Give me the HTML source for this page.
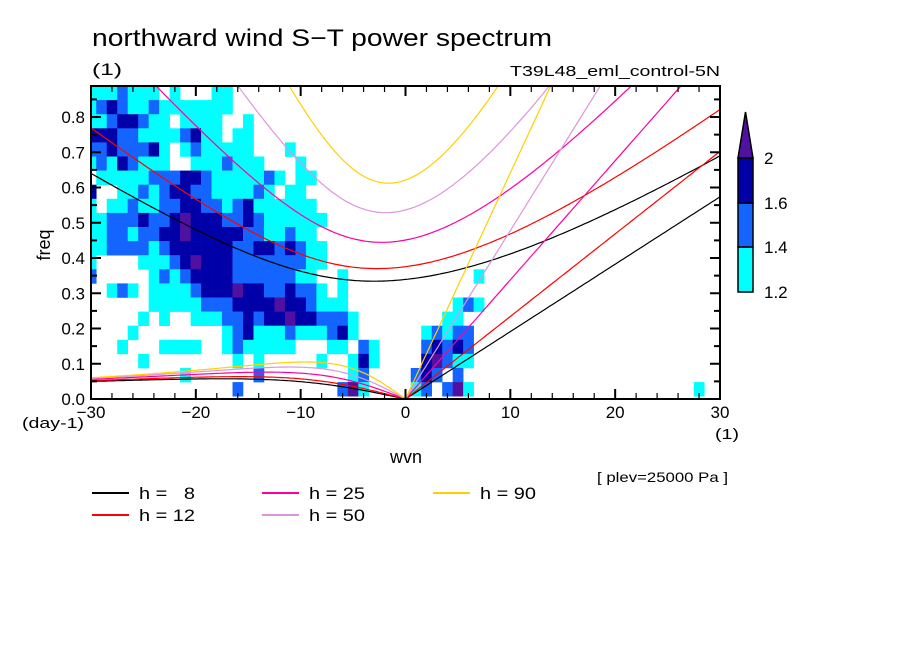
<!DOCTYPE html>
<html><head><meta charset="utf-8">
<style>
body{margin:0;background:#fff;}
svg{display:block;font-family:"Liberation Sans",sans-serif;}
</style></head>
<body>
<svg id="chart" width="904" height="654" viewBox="0 0 904 654" xmlns="http://www.w3.org/2000/svg">
<rect width="904" height="654" fill="#fff"/>
<text x="92" y="46" font-size="24" textLength="460" lengthAdjust="spacingAndGlyphs">northward wind S−T power spectrum</text>
<text x="92" y="75" font-size="17" textLength="30" lengthAdjust="spacingAndGlyphs">(1)</text>
<text x="510" y="76" font-size="15" textLength="210" lengthAdjust="spacingAndGlyphs">T39L48_eml_control-5N</text>
<defs><clipPath id="pc"><rect x="91" y="86" width="629" height="313"/></clipPath></defs>
<g id="cells" clip-path="url(#pc)"></g>
<g id="curves" clip-path="url(#pc)"></g>
<g id="axes"></g>
<text x="50" y="245" font-size="18" transform="rotate(-90 50 245)" text-anchor="middle">freq</text>
<text x="390" y="463" font-size="18" textLength="32" lengthAdjust="spacingAndGlyphs">wvn</text>
<text x="22" y="428" font-size="15" textLength="62" lengthAdjust="spacingAndGlyphs">(day-1)</text>
<text x="715" y="439" font-size="15" textLength="24" lengthAdjust="spacingAndGlyphs">(1)</text>
<text x="597" y="482" font-size="14" textLength="131" lengthAdjust="spacingAndGlyphs">[ plev=25000 Pa ]</text>
<g id="colorbar"></g>
<g id="legend"></g>
</svg>
<script>
// ---- data ----
const hValues = [8, 12, 25, 50, 90];
const hColors = ["#000000", "#ff0000", "#ff00a0", "#dc96dc", "#ffd000"];
const levelColors = ["none", "#00ffff", "#1464ff", "#0000a8", "#5010a0"];
const levelTicks = ["1.2", "1.4", "1.6", "2"];
const xTicks = [-30, -20, -10, 0, 10, 20, 30];
const yTicks = ["0.0", "0.1", "0.2", "0.3", "0.4", "0.5", "0.6", "0.7", "0.8"];
// power level grid: rows top (0.84-0.88) to bottom (0.00-0.04), columns wavenumber -30..30
const powerRows = [
"11121110100011000000"+"00000000000",
"12321121111111000000"+"00000000000",
"11233211011110010000"+"00000000000",
"33322111123110110000"+"00000000000",
"22322231012111110001"+"00000000000",
"12132111001112111000"+"10000000000",
"01111122233211111210"+"11000000000",
"30011212332211112101"+"10000000000",
"10112112233221231111"+"11000000000",
"11222322343332232111"+"11100000000",
"11221223343333322112"+"11000000000",
"11222212333333223323"+"21100000000",
"10000111234333222222"+"21100000000",
"20000012123333222222"+"11001000000"+"0000001",
"00121011112333433223"+"22101000000",
"00000011111222333343"+"32111000000"+"0000121",
"00000101001112232334"+"33222100000"+"00011",
"00001000000001231112"+"11123100000"+"012122",
"00010001111001211111"+"00011021000"+"023232",
"00000100000000101000"+"00100131000"+"034211",
"00000000010000002000"+"00000120000"+"232020",
"00000000000000200000"+"00002410000"+"120241000000000000000000000100"
];
const freqStep = 0.04, fMax = 0.888;
// ---- scales ----
const X0 = 91, X1 = 720, Y0 = 399, Y1 = 86;
const xs = k => X0 + (k + 30) / 60 * (X1 - X0);
const ys = f => Y0 - f / fMax * (Y0 - Y1);
const NS = "http://www.w3.org/2000/svg";
function mk(tag, attrs, parent){const e=document.createElementNS(NS,tag);for(const a in attrs)e.setAttribute(a,attrs[a]);parent.appendChild(e);return e;}
// cells
const cg = document.getElementById("cells");
powerRows.forEach((row, i) => {
  const r = row.padEnd(61, "0");
  const fBot = fMax - (i + 1) * freqStep;
  for (let j = 0; j < 61; j++) {
    const lv = +r[j];
    if (!lv) continue;
    const k = j - 30;
    const el = mk("rect", {x: xs(k - 0.5), y: ys(fBot + freqStep + (i===0?0.02:0)), width: xs(k + 0.5) - xs(k - 0.5) + 0.3, height: ys(fBot) - ys(fBot + freqStep + (i===0?0.02:0)) + 0.3, fill: levelColors[lv]}, cg);
    
    
  }
});
// dispersion curves
const R = 6.371e6, beta = 2 * 7.292e-5 / R, g = 9.81, toCpd = 86400 / (2 * Math.PI);
function solve(kw, c, w0){let w=w0;for(let it=0;it<60;it++){const f=w*w*w-(kw*kw*c*c+3*beta*c)*w-beta*kw*c*c;const d=3*w*w-(kw*kw*c*c+3*beta*c);w-=f/d;}return w;}
const cvg = document.getElementById("curves");
hValues.forEach((h, idx) => {
  const c = Math.sqrt(g * h);
  let ig = [], er = [], kel = [];
  for (let k = -30; k <= 30.001; k += 0.25) {
    const kw = k / R;
    const w = solve(kw, c, Math.sqrt(kw*kw*c*c + 3*beta*c) * 1.3);
    ig.push([xs(k), ys(w * toCpd)]);
    if (k < 0) { const w2 = solve(kw, c, -beta*kw/(kw*kw+3*beta/c)); er.push([xs(k), ys(w2 * toCpd)]); }
    if (k >= 0) kel.push([xs(k), ys(kw * c * toCpd)]);
  }
  er.push([xs(0), ys(0)]);
  [["ig", ig], ["er", er], ["kelvin", kel]].forEach(([nm, pts]) => {
    const p = mk("polyline", {points: pts.map(q => q[0].toFixed(1)+","+q[1].toFixed(1)).join(" "), fill: "none", stroke: hColors[idx], "stroke-width": 1.2}, cvg);
    
    
  });
});
// axes
const ag = document.getElementById("axes");
const fr = mk("rect", {x: X0, y: Y1, width: X1 - X0, height: Y0 - Y1, fill: "none", stroke: "#000", "stroke-width": 2}, ag);


for (let k = -30; k <= 30; k += 2) {
  const L = k % 10 === 0 ? 10 : 6;
  mk("line", {x1: xs(k), x2: xs(k), y1: Y0, y2: Y0 - L, stroke: "#000", "stroke-width": k%10===0?2:1.2}, ag);
  mk("line", {x1: xs(k), x2: xs(k), y1: Y1, y2: Y1 + L, stroke: "#000", "stroke-width": k%10===0?2:1.2}, ag);
}
for (let f = 0; f <= 0.88; f += 0.05) {
  const maj = Math.abs(f*10 - Math.round(f*10)) < 1e-6, L = maj ? 10 : 6;
  mk("line", {x1: X0, x2: X0 + L, y1: ys(f), y2: ys(f), stroke: "#000", "stroke-width": 2}, ag);
  mk("line", {x1: X1, x2: X1 - L, y1: ys(f), y2: ys(f), stroke: "#000", "stroke-width": 2}, ag);
}
xTicks.forEach(k => {
  const t = mk("text", {x: xs(k), y: 418, "font-size": 17, "text-anchor": "middle"}, ag);
  t.textContent = k < 0 ? "−" + (-k) : String(k);
  
  
});
yTicks.forEach(s => {
  const t = mk("text", {x: 85, y: ys(+s) + 6, "font-size": 17, "text-anchor": "end"}, ag);
  t.textContent = s;
  
  
});
// colorbar
const cb = document.getElementById("colorbar");
const cbx = 738, cbw = 15, cbBounds = [292, 247, 203, 158];
for (let i = 0; i < 3; i++) {
  const r = mk("rect", {x: cbx, y: cbBounds[i+1], width: cbw, height: cbBounds[i] - cbBounds[i+1], fill: levelColors[i+1], stroke: "#000", "stroke-width": 1.5}, cb);
  
  
}
const tri = mk("polygon", {points: `${cbx},158 ${cbx+cbw},158 ${cbx+cbw/2},112`, fill: levelColors[4], stroke: "#000", "stroke-width": 1.5}, cb);


levelTicks.forEach((s, i) => {
  const t = mk("text", {x: 764, y: cbBounds[i] + 6, "font-size": 17}, cb);
  t.textContent = s;
  
  
});
// legend
const lg = document.getElementById("legend");
const legPos = [[92,493],[92,515],[262,493],[262,515],[433,493]];
hValues.forEach((h, i) => {
  const [x, y] = legPos[i];
  const l = mk("line", {x1: x, x2: x + 37, y1: y, y2: y, stroke: hColors[i], "stroke-width": 2}, lg);
  
  
  const t = mk("text", {x: x + 47, y: y + 6, "font-size": 17, textLength: 56, lengthAdjust: "spacingAndGlyphs"}, lg);
  t.textContent = "h = " + (h < 10 ? "\u00a0 " + h : h);
  
  
});
</script>
</body></html>
